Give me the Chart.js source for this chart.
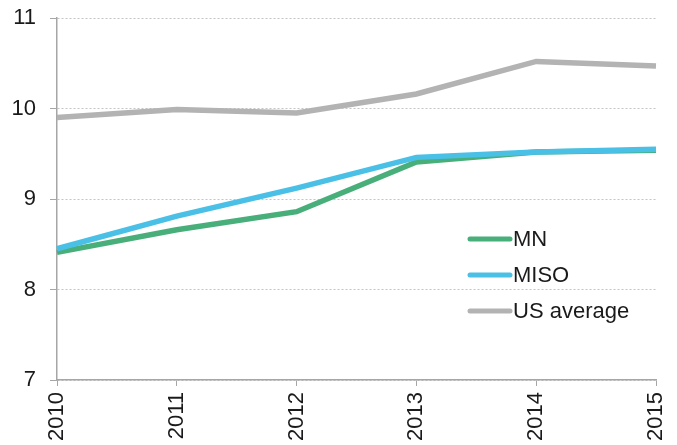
<!DOCTYPE html>
<html>
<head>
<meta charset="utf-8">
<script src="https://cdn.jsdelivr.net/npm/chart.js@4/dist/chart.umd.min.js"></script>
<style>
  html, body { margin: 0; padding: 0; background: #fff; }
  #wrap { width: 677px; height: 445px; }
</style>
</head>
<body>
<div id="wrap"><canvas id="chart" width="677" height="445"></canvas></div>
<script>
// Données
const years = ["2010", "2011", "2012", "2013", "2014", "2015"]
const mnValues = [8.41, 8.66, 8.86, 9.41, 9.52, 9.54]
const misoValues = [8.45, 8.81, 9.12, 9.46, 9.52, 9.55]
const usValues = [9.9, 9.99, 9.95, 10.16, 10.52, 10.47]
const yTicks = [7, 8, 9, 10, 11]

const font = "Liberation Sans, Arial, sans-serif"

// Légende dessinée dans la zone du graphique
const insideLegend = {
  id: "insideLegend",
  afterDraw(chart) {
    const ctx = chart.ctx
    const area = chart.chartArea
    const x0 = area.left + 411
    const y0 = area.top + 221
    ctx.save()
    chart.data.datasets.forEach((ds, i) => {
      const y = y0 + i * 36
      ctx.strokeStyle = ds.borderColor
      ctx.lineWidth = 5
      ctx.lineCap = "round"
      ctx.beginPath()
      ctx.moveTo(x0 + 2, y)
      ctx.lineTo(x0 + 42, y)
      ctx.stroke()
      ctx.fillStyle = "#1a1a1a"
      ctx.font = "22px " + font
      ctx.textBaseline = "middle"
      ctx.fillText(ds.label, x0 + 45, y + 1)
    })
    ctx.restore()
  },
}

new Chart(document.getElementById("chart"), {
  type: "line",
  data: {
    labels: years,
    datasets: [
      { label: "MN", data: mnValues, borderColor: "#48AF7B", order: 1 },
      { label: "MISO", data: misoValues, borderColor: "#4AC0E6", order: 0 },
      { label: "US average", data: usValues, borderColor: "#B3B3B3", order: 2 },
    ],
  },
  options: {
    responsive: false,
    animation: false,
    layout: { padding: { left: 0, right: 21, top: 18, bottom: 0 } },
    elements: {
      line: { borderWidth: 5.5, tension: 0, fill: false },
      point: { radius: 0 },
    },
    plugins: { legend: { display: false }, tooltip: { enabled: false } },
    scales: {
      x: {
        offset: false,
        afterFit: (axis) => {
          axis.height = 65
          axis.paddingLeft = 0
          axis.paddingRight = 0
        },
        grid: { drawOnChartArea: false, tickLength: 6, color: "#A6A6A6" },
        border: { color: "#A6A6A6", width: 1.5 },
        ticks: {
          minRotation: 90,
          maxRotation: 90,
          padding: 6,
          color: "#1a1a1a",
          font: { family: font, size: 22 },
        },
      },
      y: {
        min: yTicks[0],
        max: yTicks[yTicks.length - 1],
        afterFit: (axis) => {
          axis.width = 57
          axis.paddingTop = 0
          axis.paddingBottom = 0
        },
        afterBuildTicks: (axis) => { axis.ticks = yTicks.map((v) => ({ value: v })) },
        grid: { color: "#C4C4C4", tickLength: 7, tickColor: "#A6A6A6" },
        border: { color: "#A6A6A6", width: 1.5, dash: [2, 2] },
        ticks: {
          padding: 14,
          color: "#1a1a1a",
          font: { family: font, size: 22 },
        },
      },
    },
  },
  plugins: [insideLegend],
})
</script>
</body>
</html>
